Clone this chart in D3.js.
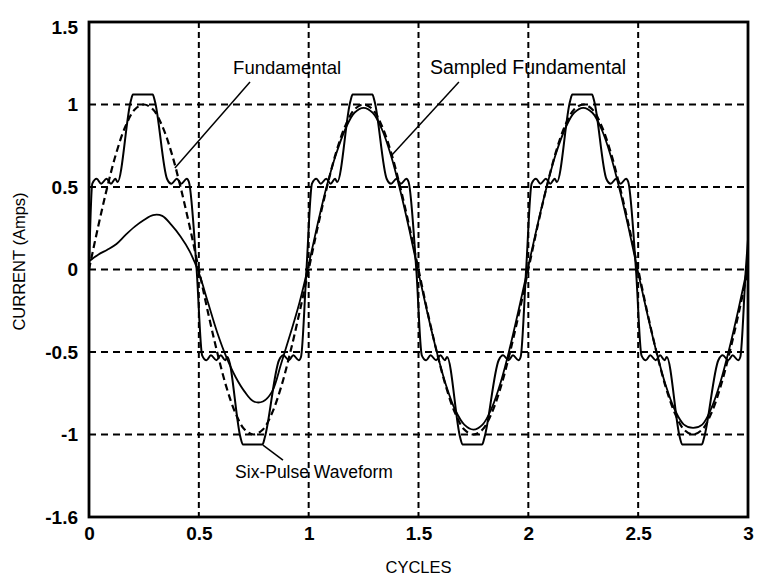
<!DOCTYPE html>
<html>
<head>
<meta charset="utf-8">
<script src="https://cdn.jsdelivr.net/npm/d3@7"></script>
<style>
  html, body { margin: 0; padding: 0; background: #fff; }
  svg { display: block; }
  text { font-family: "Liberation Sans", Arial, Helvetica, sans-serif; fill: #000; }
</style>
</head>
<body>
<svg id="chart" width="758" height="578"></svg>
<script>
// ---------------- data ----------------
const xTicks = [0, 0.5, 1, 1.5, 2, 2.5, 3];
const xTickLabels = ["0", "0.5", "1", "1.5", "2", "2.5", "3"];
const yTicks = [-1.5, -1, -0.5, 0, 0.5, 1, 1.5];
const yTickLabels = ["-1.6", "-1", "-0.5", "0", "0.5", "1", "1.5"];

// samples every 1/24 cycle, t = 0 .. 3
const sampleStepsPerCycle = 24;

const fundamental = [
  0, 0.26, 0.5, 0.71, 0.87, 0.97, 1, 0.97, 0.87, 0.71, 0.5, 0.26,
  0, -0.26, -0.5, -0.71, -0.87, -0.97, -1, -0.97, -0.87, -0.71, -0.5, -0.26,
  0, 0.26, 0.5, 0.71, 0.87, 0.97, 1, 0.97, 0.87, 0.71, 0.5, 0.26,
  0, -0.26, -0.5, -0.71, -0.87, -0.97, -1, -0.97, -0.87, -0.71, -0.5, -0.26,
  0, 0.26, 0.5, 0.71, 0.87, 0.97, 1, 0.97, 0.87, 0.71, 0.5, 0.26,
  0, -0.26, -0.5, -0.71, -0.87, -0.97, -1, -0.97, -0.87, -0.71, -0.5, -0.26,
  0
];

const sampledFundamental = [
  0.05, 0.09, 0.12, 0.155, 0.21, 0.26, 0.30, 0.33, 0.325, 0.27, 0.20, 0.11,
  -0.02, -0.20, -0.38, -0.53, -0.65, -0.74, -0.80, -0.80, -0.74, -0.57, -0.39, -0.20,
  0.03, 0.28, 0.51, 0.70, 0.85, 0.95, 0.98, 0.95, 0.85, 0.69, 0.48, 0.24,
  -0.02, -0.27, -0.50, -0.70, -0.85, -0.94, -0.97, -0.94, -0.84, -0.68, -0.47, -0.23,
  0.02, 0.27, 0.50, 0.70, 0.85, 0.95, 0.98, 0.95, 0.85, 0.69, 0.48, 0.24,
  -0.02, -0.27, -0.50, -0.70, -0.85, -0.94, -0.96, -0.94, -0.84, -0.68, -0.47, -0.23,
  0.03
];

// six-pulse waveform: [cycles, amps]
const sixPulse = [
  [0, 0], [0.015, 0.52], [0.035, 0.55], [0.055, 0.52], [0.08, 0.55], [0.1, 0.52], [0.12, 0.55], [0.13, 0.53],
  [0.19, 1.02], [0.2, 1.06], [0.29, 1.06], [0.3, 1.02],
  [0.355, 0.55], [0.375, 0.52], [0.4, 0.55], [0.42, 0.52], [0.445, 0.55], [0.455, 0.53], [0.49, 0],
  [0.515, -0.52], [0.535, -0.55], [0.555, -0.52], [0.58, -0.55], [0.6, -0.52], [0.62, -0.55], [0.63, -0.53],
  [0.69, -1.02], [0.7, -1.06], [0.79, -1.06], [0.8, -1.02],
  [0.865, -0.55], [0.885, -0.52], [0.91, -0.55], [0.93, -0.52], [0.955, -0.55], [0.965, -0.53], [0.99, 0],
  [1.015, 0.52], [1.035, 0.55], [1.055, 0.52], [1.08, 0.55], [1.1, 0.52], [1.12, 0.55], [1.13, 0.53],
  [1.19, 1.02], [1.2, 1.06], [1.29, 1.06], [1.3, 1.02],
  [1.355, 0.55], [1.375, 0.52], [1.4, 0.55], [1.42, 0.52], [1.445, 0.55], [1.455, 0.53], [1.49, 0],
  [1.515, -0.52], [1.535, -0.55], [1.555, -0.52], [1.58, -0.55], [1.6, -0.52], [1.62, -0.55], [1.63, -0.53],
  [1.69, -1.02], [1.7, -1.06], [1.79, -1.06], [1.8, -1.02],
  [1.865, -0.55], [1.885, -0.52], [1.91, -0.55], [1.93, -0.52], [1.955, -0.55], [1.965, -0.53], [1.99, 0],
  [2.015, 0.52], [2.035, 0.55], [2.055, 0.52], [2.08, 0.55], [2.1, 0.52], [2.12, 0.55], [2.13, 0.53],
  [2.19, 1.02], [2.2, 1.06], [2.29, 1.06], [2.3, 1.02],
  [2.355, 0.55], [2.375, 0.52], [2.4, 0.55], [2.42, 0.52], [2.445, 0.55], [2.455, 0.53], [2.49, 0],
  [2.515, -0.52], [2.535, -0.55], [2.555, -0.52], [2.58, -0.55], [2.6, -0.52], [2.62, -0.55], [2.63, -0.53],
  [2.69, -1.02], [2.7, -1.06], [2.79, -1.06], [2.8, -1.02],
  [2.865, -0.55], [2.885, -0.52], [2.91, -0.55], [2.93, -0.52], [2.955, -0.55], [2.965, -0.53], [2.99, 0],
  [3, 0.18]
];

// annotations (data coordinates): text anchor + leader line
const annotationText = ["Fundamental", "Sampled Fundamental", "Six-Pulse Waveform"];
const annotationAt = [[0.656, 1.185], [1.552, 1.185], [0.665, -1.262]];
const leaderFrom = [[0.733, 1.136], [1.684, 1.136], [0.792, -1.064]];
const leaderTo = [[0.391, 0.615], [1.379, 0.694], [0.883, -1.155]];

// ---------------- chart ----------------
const svg = d3.select("#chart");
const margin = { left: 89, right: 10, top: 22, bottom: 61 };
const W = 758, H = 578;
const annotationFontSize = [18.5, 19.5, 17.5];
const x = d3.scaleLinear().domain([0, 3]).range([margin.left, W - margin.right]);
const y = d3.scaleLinear().domain([-1.5, 1.5]).range([H - margin.bottom, margin.top]);

svg.append("clipPath").attr("id", "clip")
  .append("rect")
  .attr("x", x(0)).attr("y", y(1.5))
  .attr("width", x(3) - x(0)).attr("height", y(-1.5) - y(1.5));

// grid
const grid = svg.append("g");
grid.selectAll("line.vg").data(xTicks.filter(d => d > 0 && d < 3)).join("line")
  .attr("x1", d => x(d)).attr("x2", d => x(d))
  .attr("y1", y(1.5)).attr("y2", y(-1.5))
  .attr("stroke", "#000").attr("stroke-width", 2).attr("stroke-dasharray", "6,4");
grid.selectAll("line.hg").data(yTicks.filter(d => d > -1.5 && d < 1.5)).join("line")
  .attr("x1", x(0)).attr("x2", x(3))
  .attr("y1", d => y(d)).attr("y2", d => y(d))
  .attr("stroke", "#000").attr("stroke-width", 2.2).attr("stroke-dasharray", "7,5");

const tAt = i => i / sampleStepsPerCycle;
const plot = svg.append("g").attr("clip-path", "url(#clip)");

const lineIdx = d3.line().x((d, i) => x(tAt(i))).y(d => y(d)).curve(d3.curveCatmullRom.alpha(0.5));

plot.append("path").datum(fundamental)
  .attr("d", lineIdx).attr("fill", "none")
  .attr("stroke", "#000").attr("stroke-width", 2.2).attr("stroke-dasharray", "7,4");

plot.append("path").datum(sampledFundamental)
  .attr("d", lineIdx).attr("fill", "none")
  .attr("stroke", "#000").attr("stroke-width", 1.8);

plot.append("path").datum(sixPulse)
  .attr("d", d3.line().x(d => x(d[0])).y(d => y(d[1])).curve(d3.curveMonotoneX))
  .attr("fill", "none").attr("stroke", "#000").attr("stroke-width", 2).attr("stroke-linejoin", "round");

// axes box
svg.append("rect")
  .attr("x", x(0)).attr("y", y(1.5))
  .attr("width", x(3) - x(0)).attr("height", y(-1.5) - y(1.5))
  .attr("fill", "none").attr("stroke", "#000").attr("stroke-width", 2.8);

// axes labels via d3 axes
const xAxis = d3.axisBottom(x).tickValues(xTicks).tickFormat((d, i) => xTickLabels[i]).tickSize(0).tickPadding(10);
const gx = svg.append("g").attr("transform", `translate(0,${y(-1.5)})`).call(xAxis);
gx.select(".domain").remove();
gx.selectAll("text").attr("font-size", 19).attr("font-weight", "bold")
  .attr("font-family", '"Liberation Sans", Arial, sans-serif');

const yAxis = d3.axisLeft(y).tickValues(yTicks).tickFormat((d, i) => yTickLabels[i]).tickSize(0).tickPadding(11);
const gy = svg.append("g").attr("transform", `translate(${x(0)},0)`).call(yAxis);
gy.select(".domain").remove();
gy.selectAll("text").attr("font-size", 19).attr("font-weight", "bold")
  .attr("font-family", '"Liberation Sans", Arial, sans-serif');
gy.selectAll(".tick").filter(d => d === 1.5).select("text").attr("dy", "0.6em");

// axis titles
svg.append("text").attr("x", (x(0) + x(3)) / 2).attr("y", 573)
  .attr("text-anchor", "middle").attr("font-size", 16.5).text("CYCLES");
svg.append("text")
  .attr("transform", `translate(25,${y(0) - 8}) rotate(-90)`)
  .attr("text-anchor", "middle").attr("font-size", 16.5).text("CURRENT (Amps)");

// annotations
const ann = svg.append("g");
annotationText.forEach((txt, i) => {
  ann.append("line")
    .attr("x1", x(leaderFrom[i][0])).attr("y1", y(leaderFrom[i][1]))
    .attr("x2", x(leaderTo[i][0])).attr("y2", y(leaderTo[i][1]))
    .attr("stroke", "#000").attr("stroke-width", 1.5);
  ann.append("text")
    .attr("x", x(annotationAt[i][0])).attr("y", y(annotationAt[i][1]))
    .attr("font-size", annotationFontSize[i]).text(txt);
});
</script>
</body>
</html>
